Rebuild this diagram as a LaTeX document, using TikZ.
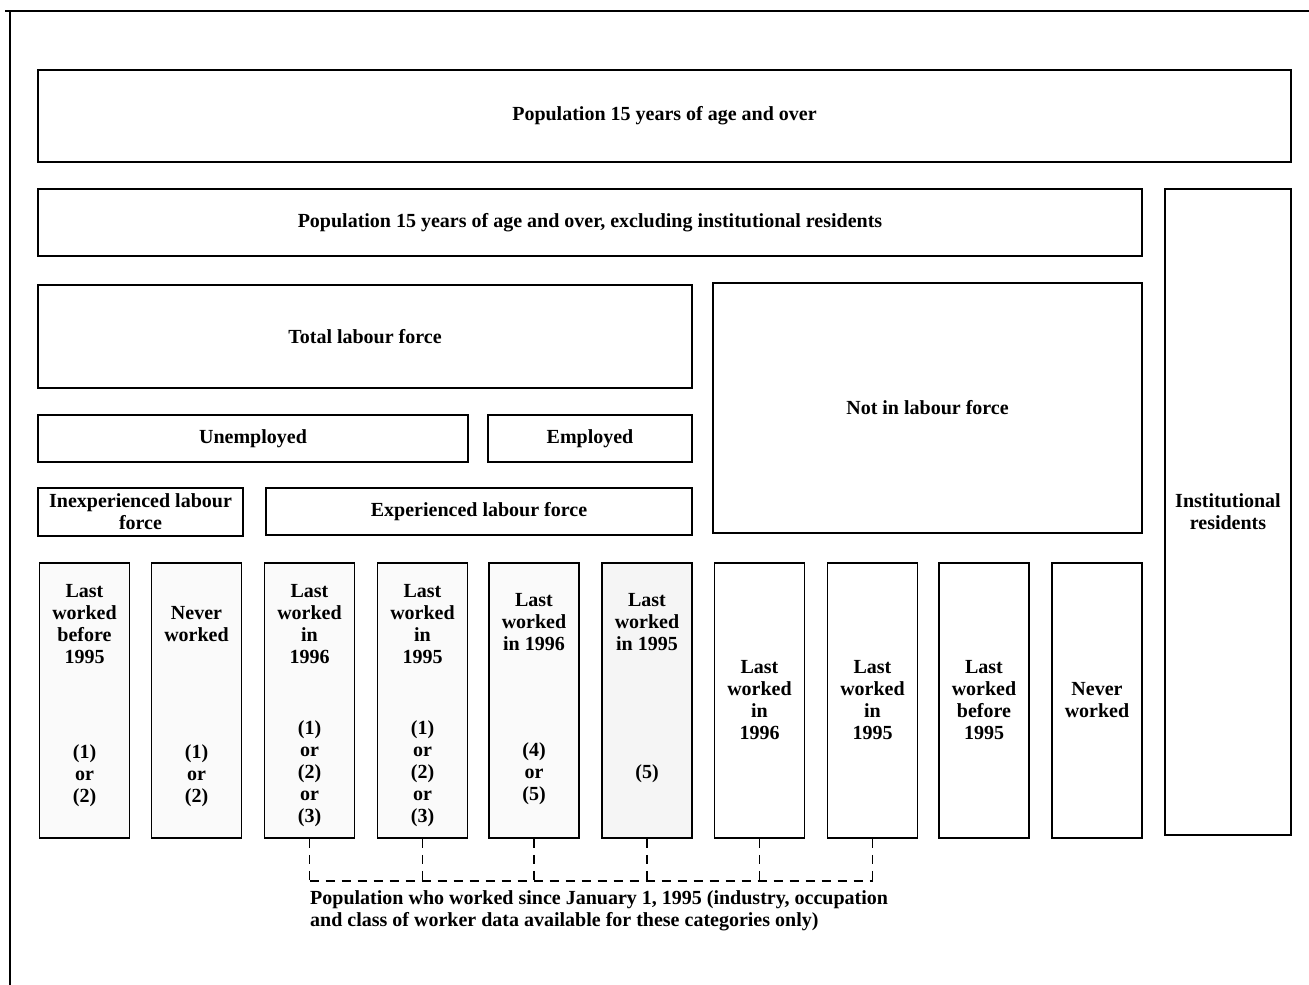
\documentclass[tikz,border=0pt]{standalone}
\usepackage{fontspec}
\setmainfont{Liberation Serif}
\begin{document}
\begin{tikzpicture}[x=1pt,y=-1pt]
\tikzset{
  txt/.style={font=\fontsize{20}{22}\selectfont\bfseries, align=center},
  box/.style={draw, line width=1.5pt, inner sep=2pt, txt},
  col/.style={box, minimum width=90pt, minimum height=275pt},
  tint/.style={fill=black!2},
  tintdark/.style={fill=black!4},
  lbl/.style={txt, inner sep=0pt},
  bracket/.style={line width=1.1pt, dash pattern=on 9pt off 7pt},
  frame/.style={line width=2pt}
}
\useasboundingbox (0,0) rectangle (1309,985);

% page frame (top and left rules)
\draw[frame] (5,11) -- (1309,11);
\draw[frame] (10,11) -- (10,985);

% upper hierarchy
\node[box, minimum width=1253pt, minimum height=92pt] (pop) at (664.5,116) {Population 15 years of age and over};
\node[box, minimum width=1104pt, minimum height=67pt] (popx) at (590,222.5) {Population 15 years of age and over, excluding institutional residents};
\node[box, minimum width=126pt, minimum height=646pt] (inst) at (1228,512) {Institutional\\residents};
\node[box, minimum width=654pt, minimum height=103pt] (tlf) at (365,336.5) {Total labour force};
\node[box, minimum width=429pt, minimum height=250pt] (nilf) at (927.5,408) {Not in labour force};
\node[box, minimum width=430pt, minimum height=47pt] (unemp) at (253,438.5) {Unemployed};
\node[box, minimum width=204pt, minimum height=47pt] (emp) at (590,438.5) {Employed};
\node[box, minimum width=205pt, minimum height=48pt, inner sep=0pt] (inexp) at (140.5,512) {Inexperienced labour\\force};
\node[box, minimum width=426pt, minimum height=47pt] (exp) at (479,511.5) {Experienced labour force};

% detailed categories
\node[col, tint] (c1) at (84.5,700.5) {};
\node[col, tint] (c2) at (196.5,700.5) {};
\node[col, tint] (c3) at (309.5,700.5) {};
\node[col, tint] (c4) at (422.5,700.5) {};
\node[col, tint] (c5) at (534,700.5) {};
\node[col, tintdark] (c6) at (647,700.5) {};
\node[col] (c7) at (759.5,700.5) {Last\\worked\\in\\1996};
\node[col] (c8) at (872.5,700.5) {Last\\worked\\in\\1995};
\node[col] (c9) at (984,700.5) {Last\\worked\\before\\1995};
\node[col] (c10) at (1097,700.5) {Never\\worked};

% category labels and question codes
\path (c1.north) ++(0,62) node[lbl] (c1a) {Last\\worked\\before\\1995};
\path (c1.north) ++(0,213) node[lbl] (c1b) {(1)\\or\\(2)};
\path (c2.north) ++(0,62) node[lbl] (c2a) {Never\\worked};
\path (c2.north) ++(0,213) node[lbl] (c2b) {(1)\\or\\(2)};
\path (c3.north) ++(0,62) node[lbl] (c3a) {Last\\worked\\in\\1996};
\path (c3.north) ++(0,211) node[lbl] (c3b) {(1)\\or\\(2)\\or\\(3)};
\path (c4.north) ++(0,62) node[lbl] (c4a) {Last\\worked\\in\\1995};
\path (c4.north) ++(0,211) node[lbl] (c4b) {(1)\\or\\(2)\\or\\(3)};
\path (c5.north) ++(0,60) node[lbl] (c5a) {Last\\worked\\in 1996};
\path (c5.north) ++(0,211) node[lbl] (c5b) {(4)\\or\\(5)};
\path (c6.north) ++(0,60) node[lbl] (c6a) {Last\\worked\\in 1995};
\path (c6.north) ++(0,211) node[lbl] (c6b) {(5)};

% bracket joining the categories that worked since 1995
\coordinate (base) at (0,881);
\foreach \c in {c3,c4,c5,c6,c7,c8}
  \draw[bracket] (\c.south) -- (\c.south |- base);
\draw[bracket] (c3.south |- base) -- (c8.south |- base);

\node[txt, align=left, inner sep=0pt, anchor=north west] (note) at (310,890)
  {Population who worked since January 1, 1995 (industry, occupation\\and class of worker data available for these categories only)};
\end{tikzpicture}
\end{document}
